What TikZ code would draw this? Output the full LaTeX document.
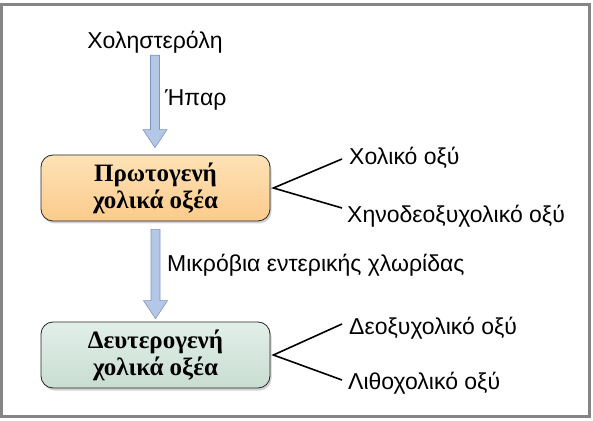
\documentclass[tikz,border=0pt]{standalone}
\usepackage{fontspec}
\setmainfont{Liberation Serif}
\newfontfamily\labelfont{Liberation Sans}
\usetikzlibrary{calc,shadows}

\definecolor{frameGray}{HTML}{858585}
\definecolor{arrowBlue}{HTML}{B4C7E6}
\definecolor{arrowEdge}{HTML}{7F96BC}
\definecolor{primTop}{HTML}{FEE2B6}
\definecolor{primBot}{HTML}{FBCB8C}
\definecolor{secTop}{HTML}{E2EFE9}
\definecolor{secBot}{HTML}{C8DDD2}

% wide blue arrow between two points on one vertical
\newcommand{\flowarrow}[2]{%
  \draw[flow] let \p1=(#1), \p2=(#2) in
    (\x1-4.5pt,\y1) -- (\x1-4.5pt,\y2+18pt) -- (\x1-12pt,\y2+18pt) -- (\x1,\y2)
    -- (\x1+12pt,\y2+18pt) -- (\x1+4.5pt,\y2+18pt) -- (\x1+4.5pt,\y1) -- cycle;}

\begin{document}
\begin{tikzpicture}[x=1pt,y=1pt,
    lbl/.style={font=\labelfont\fontsize{23}{27}\selectfont, inner sep=0pt},
    acidbox/.style={rectangle, rounded corners=12pt, draw=black!85, line width=0.8pt,
      minimum width=229pt, minimum height=66pt, align=center,
      font=\bfseries\fontsize{25}{27}\selectfont,
      drop shadow={shadow xshift=1.5pt, shadow yshift=-2.5pt, opacity=0.35}},
    flow/.style={fill=arrowBlue, draw=arrowEdge, line width=0.6pt},
    branch/.style={line width=1.6pt}]
  \useasboundingbox (0,0) rectangle (593,420);
  \draw[frameGray, line width=3pt] (1.5,3.5) rectangle (589.5,415);

  \node[lbl] (chol) at (155,378) {Χοληστερόλη};
  \node[acidbox, top color=primTop, bottom color=primBot] (prim) at (155.5,232)
    {Πρωτογενή\\χολικά οξέα};
  \node[acidbox, top color=secTop, bottom color=secBot] (sec) at (155.5,65)
    {Δευτερογενή\\χολικά οξέα};

  \flowarrow{$(chol.south)+(0,-2)$}{$(prim.north)+(0,7)$}
  \flowarrow{$(prim.south)+(0,-8)$}{$(sec.north)+(0,3)$}
  \node[lbl, anchor=west] (liver) at (165,320) {Ήπαρ};
  \node[lbl, anchor=west] (flora) at (167,155) {Μικρόβια εντερικής χλωρίδας};

  % products
  \node[lbl, anchor=west] (cholic) at (349,262) {Χολικό οξύ};
  \node[lbl, anchor=west] (cheno) at (347,204) {Χηνοδεοξυχολικό οξύ};
  \node[lbl, anchor=west] (deoxy) at (349,92) {Δεοξυχολικό οξύ};
  \node[lbl, anchor=west] (litho) at (348,37) {Λιθοχολικό οξύ};
  \coordinate (cholicEnd) at (342,261);
  \coordinate (chenoEnd) at (342,212);
  \coordinate (deoxyEnd) at (342,96);
  \coordinate (lithoEnd) at (342,40);
  \draw[branch] (cholicEnd) -- ($(prim.east)+(3,0)$) -- (chenoEnd);
  \draw[branch] (deoxyEnd) -- ($(sec.east)+(3,0)$) -- (lithoEnd);
\end{tikzpicture}
\end{document}
